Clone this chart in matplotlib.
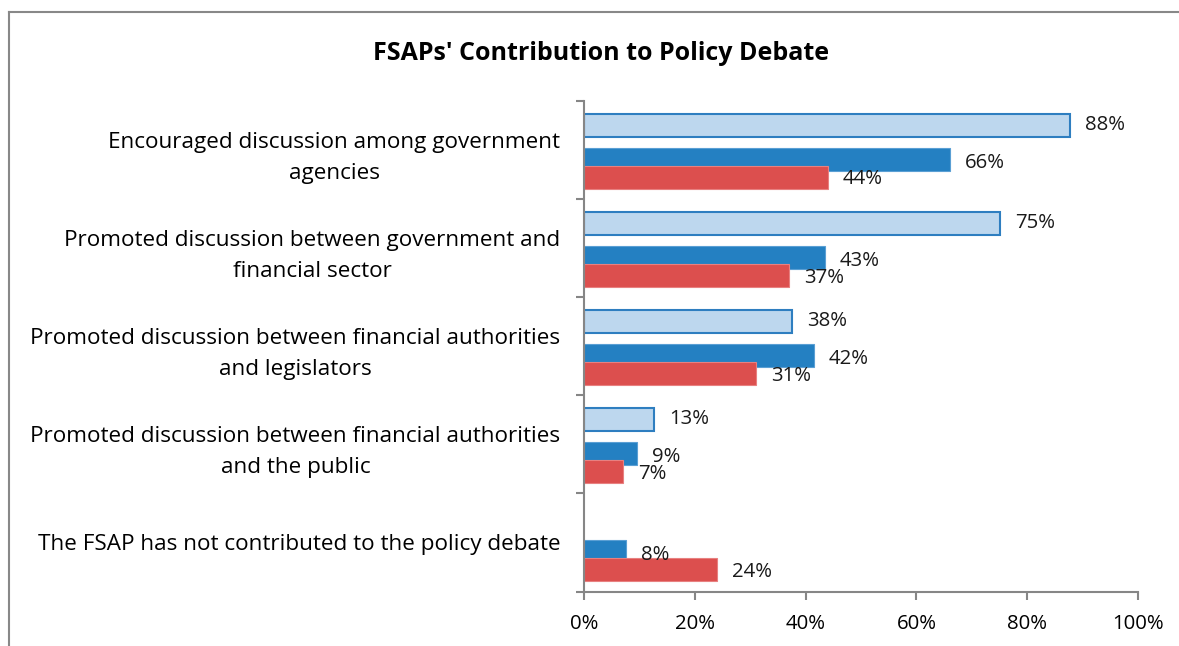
import matplotlib.pyplot as plt
import numpy as np
from matplotlib.lines import Line2D
from matplotlib.ticker import PercentFormatter

categories = [
    "Encouraged discussion among government\nagencies",
    "Promoted discussion between government and\nfinancial sector",
    "Promoted discussion between financial authorities\nand legislators",
    "Promoted discussion between financial authorities\nand the public",
    "The FSAP has not contributed to the policy debate",
]
light_vals = [0.877, 0.751, 0.375, 0.126, None]
dark_vals = [0.661, 0.435, 0.415, 0.095, 0.076]
red_vals = [0.44, 0.37, 0.31, 0.071, 0.24]
light_labels = ["88%", "75%", "38%", "13%", None]
dark_labels = ["66%", "43%", "42%", "9%", "8%"]
red_labels = ["44%", "37%", "31%", "7%", "24%"]

plt.rcParams['font.family'] = ['Open Sans', 'DejaVu Sans']
fs_cat = 16.2
fs_num = 14.7

fig = plt.figure(figsize=(11.79, 6.46), dpi=100)
ax = fig.add_axes([584 / 1179, 1 - 591.5 / 646, 554 / 1179, 490.5 / 646])

y = np.arange(len(categories))
h = 0.235
off_light, off_dark, off_red = -0.255, 0.097, 0.28

light_c = "#BDD7EE"
light_edge = "#2E7EC0"
dark_c = "#2480C2"
red_c = "#DC4F4E"

for i in range(len(categories)):
    if light_vals[i] is not None:
        ax.barh(y[i] + off_light, light_vals[i], height=h, color=light_c,
                edgecolor=light_edge, linewidth=1.5)
    ax.barh(y[i] + off_dark, dark_vals[i], height=h, color=dark_c, edgecolor="#5A9FD4", linewidth=0.8)
    ax.barh(y[i] + off_red, red_vals[i], height=h, color=red_c, edgecolor="#E88080", linewidth=0.8)

pad = 0.027
for i in range(len(categories)):
    if light_vals[i] is not None:
        ax.text(light_vals[i] + pad, y[i] + off_light, light_labels[i], va='center', ha='left', fontsize=fs_num, color='#1a1a1a')
    ax.text(dark_vals[i] + pad, y[i] + off_dark + 0.03, dark_labels[i], va='center', ha='left', fontsize=fs_num, color='#1a1a1a')
    ax.text(red_vals[i] + pad, y[i] + off_red + 0.02, red_labels[i], va='center', ha='left', fontsize=fs_num, color='#1a1a1a')

ax.set_xlim(0, 1)
ax.set_ylim(len(categories) - 0.5, -0.5)
ax.xaxis.set_major_formatter(PercentFormatter(1.0, decimals=0))
ax.set_xticks(np.linspace(0, 1, 6))

ax.set_yticks(y)
ax.set_yticklabels(categories, ha='right', multialignment='center', fontsize=fs_cat, linespacing=1.65)
ax.set_yticks(np.arange(len(categories) + 1) - 0.5, minor=True)
ax.tick_params(axis='y', which='major', length=0, pad=17)
ax.tick_params(axis='y', which='minor', length=6, color='#868686', width=1.5)
ax.tick_params(axis='x', length=6, color='#868686', width=1.5, labelsize=fs_num, pad=10)

for s in ['top', 'right']:
    ax.spines[s].set_visible(False)
for s in ['left', 'bottom']:
    ax.spines[s].set_color('#868686')
    ax.spines[s].set_linewidth(1.5)

fig.text(601 / 1179, 1 - 54 / 646, "FSAPs' Contribution to Policy Debate",
         ha='center', va='center', fontsize=18, fontweight='bold')

# outer chart frame (cut off at the right and bottom)
fig.add_artist(Line2D([9 / 1179, 1], [1 - 12 / 646, 1 - 12 / 646], color='#888888', lw=1.5, transform=fig.transFigure))
fig.add_artist(Line2D([9 / 1179, 9 / 1179], [0, 1 - 12 / 646], color='#888888', lw=1.5, transform=fig.transFigure))

fig.savefig("out.png", dpi=100)
